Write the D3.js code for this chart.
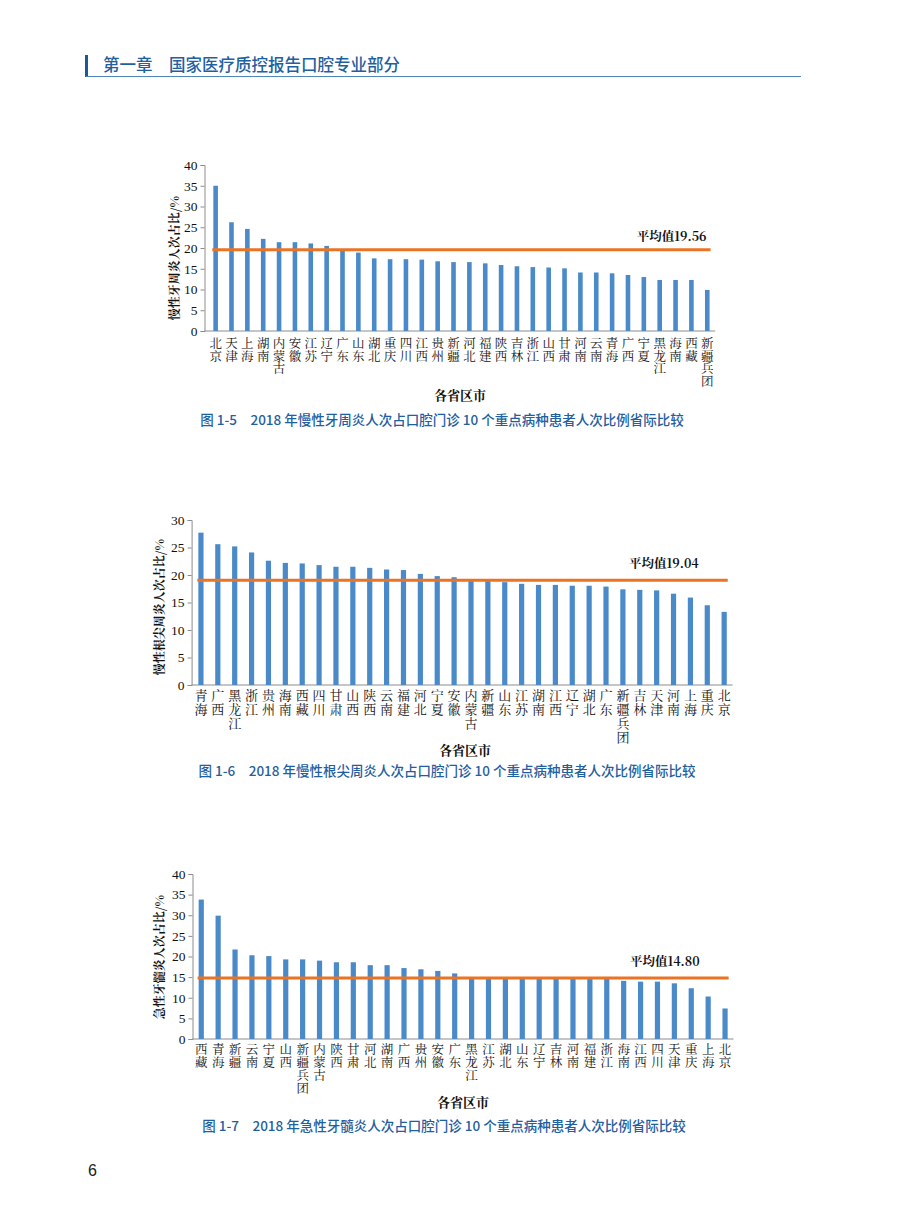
<!DOCTYPE html>
<html>
<head>
<meta charset="utf-8">
<script src="https://cdn.jsdelivr.net/npm/d3@7"></script>
<style>
    body { margin: 0; background: #fff; }
    svg { display: block; }
    .cat { writing-mode: vertical-rl; text-orientation: upright; }
</style>
</head>
<body>
<svg id="page" width="900" height="1222"></svg>
<script>
// chart data
const names1 = ["北京","天津","上海","湖南","内蒙古","安徽","江苏","辽宁","广东","山东","湖北","重庆","四川","江西","贵州","新疆","河北","福建","陕西","吉林","浙江","山西","甘肃","河南","云南","青海","广西","宁夏","黑龙江","海南","西藏","新疆兵团"];
const values1 = [35.0,26.2,24.6,22.2,21.4,21.4,21.1,20.5,19.3,18.9,17.5,17.3,17.3,17.2,16.8,16.6,16.6,16.3,15.9,15.6,15.4,15.3,15.1,14.1,14.1,13.9,13.5,13.0,12.3,12.3,12.3,9.9];
const mean1 = 19.56;

const names2 = ["青海","广西","黑龙江","浙江","贵州","海南","西藏","四川","甘肃","山西","陕西","云南","福建","河北","宁夏","安徽","内蒙古","新疆","山东","江苏","湖南","江西","辽宁","湖北","广东","新疆兵团","吉林","天津","河南","上海","重庆","北京"];
const values2 = [27.7,25.6,25.2,24.1,22.6,22.2,22.1,21.8,21.5,21.5,21.3,21.0,20.9,20.2,19.8,19.6,19.2,18.9,18.7,18.4,18.2,18.2,18.05,18.05,17.9,17.4,17.3,17.2,16.6,15.9,14.5,13.3];
const mean2 = 19.04;

const names3 = ["西藏","青海","新疆","云南","宁夏","山西","新疆兵团","内蒙古","陕西","甘肃","河北","湖南","广西","贵州","安徽","广东","黑龙江","江苏","湖北","山东","辽宁","吉林","河南","福建","浙江","海南","江西","四川","天津","重庆","上海","北京"];
const values3 = [33.8,29.9,21.7,20.3,20.1,19.3,19.3,19.0,18.6,18.6,17.9,17.9,17.2,16.9,16.5,15.9,15.0,14.9,14.9,14.8,14.8,14.7,14.7,14.6,14.6,14.1,13.9,13.9,13.5,12.3,10.3,7.4];
const mean3 = 14.80;

const yTicks1 = [0,5,10,15,20,25,30,35,40];
const yTicks2 = [0,5,10,15,20,25,30];
const yTicks3 = [0,5,10,15,20,25,30,35,40];

const CJK = "'Noto Serif CJK SC', 'Noto Sans CJK SC', serif";
const SERIF = "'Liberation Serif', 'DejaVu Serif', serif";
const SANS = "'Noto Sans CJK SC', 'Noto Sans', sans-serif";
const BAR = "#4b8ac9";
const MEAN = "#ea7424";
const BLUE = "#1f609f";

const svg = d3.select("#page");

// page header
svg.append("rect")
    .attr("x", 85).attr("y", 55)
    .attr("width", 3).attr("height", 22)
    .attr("fill", "#1b5a94");
svg.append("line")
    .attr("x1", 86).attr("x2", 801)
    .attr("y1", 76.5).attr("y2", 76.5)
    .attr("stroke", "#4f86b8").attr("stroke-width", 1.2);
svg.append("text")
    .attr("x", 103).attr("y", 71)
    .attr("fill", BLUE)
    .style("font-family", SANS)
    .style("font-size", "16.5px")
    .style("font-weight", 500)
    .text("第一章\u3000国家医疗质控报告口腔专业部分");

svg.append("text")
    .attr("x", 88).attr("y", 1176)
    .attr("fill", "#222")
    .style("font-family", "'Liberation Sans', Arial, sans-serif")
    .style("font-size", "16px")
    .text("6");

/**
 * draws one bar chart with its mean line
 */
function drawChart(names, values, mean, ticks, cfg) {
    let g = svg.append("g");

    let x = d3.scaleBand()
        .domain(names)
        .range([cfg.x0, cfg.x1]);
    let y = d3.scaleLinear()
        .domain([0, ticks[ticks.length - 1]])
        .range([cfg.yBottom, cfg.yTop]);
    let bw = x.bandwidth();

    // y axis
    let yAxis = g.append("g")
        .attr("transform", "translate(" + cfg.axisX + ",0)")
        .call(d3.axisLeft(y).tickValues(ticks).tickSize(4).tickPadding(3));
    yAxis.selectAll("path, line").attr("stroke", "#8c8c8c");
    yAxis.selectAll("text")
        .attr("fill", "#111")
        .style("font-family", SERIF)
        .style("font-size", "13.5px");

    // baseline
    g.append("line")
        .attr("x1", cfg.axisX).attr("x2", cfg.x1)
        .attr("y1", y(0)).attr("y2", y(0))
        .attr("stroke", "#8c8c8c");

    g.selectAll(".bar")
        .data(names)
        .enter().append("rect")
        .attr("class", "bar")
        .attr("x", function(d) { return x(d) + bw / 2 - cfg.barW / 2; })
        .attr("y", function(d, i) { return y(values[i]); })
        .attr("width", cfg.barW)
        .attr("height", function(d, i) { return y(0) - y(values[i]); })
        .attr("fill", BAR);

    // mean line + label
    let lx1 = x(names[0]) + bw / 2 - cfg.barW / 2 - 1;
    let lx2 = x(names[names.length - 1]) + bw / 2 + cfg.barW / 2 + 1;
    g.append("line")
        .attr("x1", lx1).attr("x2", lx2)
        .attr("y1", y(mean)).attr("y2", y(mean))
        .attr("stroke", MEAN).attr("stroke-width", 3);
    g.append("text")
        .attr("x", lx2 - cfg.meanLabelInset)
        .attr("y", y(mean) - cfg.meanLabelUp)
        .attr("text-anchor", "end")
        .attr("fill", "#111")
        .style("font-family", CJK)
        .style("font-size", "12.5px")
        .style("font-weight", "bold")
        .text("平均值" + mean.toFixed(2));

    // category labels, written top to bottom
    g.selectAll(".cat")
        .data(names)
        .enter().append("text")
        .attr("class", "cat")
        .attr("x", function(d) { return x(d) + bw / 2; })
        .attr("y", cfg.catTop)
        .attr("fill", "#111")
        .style("font-family", CJK)
        .style("font-size", cfg.catSize + "px")
        .style("letter-spacing", (cfg.catStep - cfg.catSize) + "px")
        .text(function(d) { return d; });

    g.append("text")
        .attr("x", cfg.xTitleX).attr("y", cfg.xTitleY)
        .attr("text-anchor", "middle")
        .attr("fill", "#111")
        .style("font-family", CJK)
        .style("font-size", "13px")
        .style("font-weight", "bold")
        .text("各省区市");

    g.append("text")
        .attr("transform", "translate(" + cfg.yTitleX + "," + cfg.yTitleY + ") rotate(-90)")
        .attr("text-anchor", "middle")
        .attr("fill", "#111")
        .style("font-family", CJK)
        .style("font-size", "12px")
        .style("font-weight", "bold")
        .text(cfg.yTitle);

    g.append("text")
        .attr("x", cfg.capX).attr("y", cfg.capY)
        .attr("text-anchor", "middle")
        .attr("fill", BLUE)
        .style("font-family", SANS)
        .style("font-size", "13.5px")
        .style("font-weight", 500)
        .text(cfg.caption);
}

drawChart(names1, values1, mean1, yTicks1, {
    x0: 207.7, x1: 715.2, axisX: 204.5, yTop: 165, yBottom: 331, barW: 4.6,
    meanLabelInset: 4, meanLabelUp: 9,
    catTop: 336.8, catStep: 12.8, catSize: 12.5,
    xTitleX: 460, xTitleY: 399.5,
    yTitleX: 179, yTitleY: 258, yTitle: "慢性牙周炎人次占比/%",
    capX: 442, capY: 424.5,
    caption: "图 1-5\u20032018 年慢性牙周炎人次占口腔门诊 10 个重点病种患者人次比例省际比较"
});

drawChart(names2, values2, mean2, yTicks2, {
    x0: 192.5, x1: 732.6, axisX: 191.6, yTop: 520, yBottom: 685, barW: 5.2,
    meanLabelInset: 29, meanLabelUp: 12,
    catTop: 688.2, catStep: 14, catSize: 13,
    xTitleX: 465, xTitleY: 754.5,
    yTitleX: 164, yTitleY: 607, yTitle: "慢性根尖周炎人次占比/%",
    capX: 447, capY: 775.5,
    caption: "图 1-6\u20032018 年慢性根尖周炎人次占口腔门诊 10 个重点病种患者人次比例省际比较"
});

drawChart(names3, values3, mean3, yTicks3, {
    x0: 192.8, x1: 733.5, axisX: 192.5, yTop: 874, yBottom: 1039, barW: 5.2,
    meanLabelInset: 29, meanLabelUp: 12,
    catTop: 1042.6, catStep: 13.2, catSize: 12.5,
    xTitleX: 463, xTitleY: 1106.5,
    yTitleX: 164, yTitleY: 957, yTitle: "急性牙髓炎人次占比/%",
    capX: 444, capY: 1130.5,
    caption: "图 1-7\u20032018 年急性牙髓炎人次占口腔门诊 10 个重点病种患者人次比例省际比较"
});
</script>
</body>
</html>
